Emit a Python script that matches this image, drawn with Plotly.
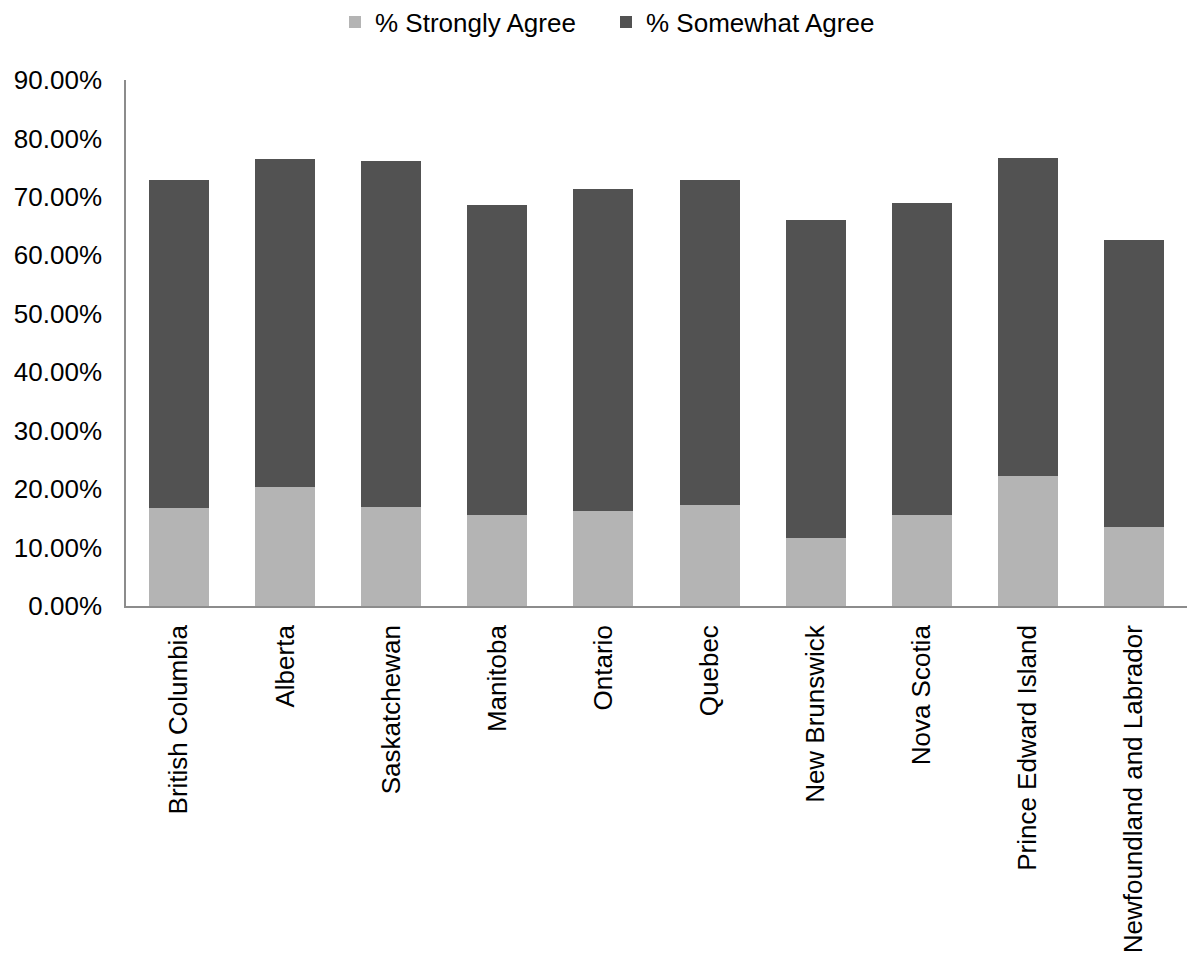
import plotly.graph_objects as go

provinces = ["British Columbia", "Alberta", "Saskatchewan", "Manitoba", "Ontario",
             "Quebec", "New Brunswick", "Nova Scotia", "Prince Edward Island",
             "Newfoundland and Labrador"]
strongly_agree = [0.1683, 0.2033, 0.1690, 0.1558, 0.1632, 0.1735, 0.1159, 0.1558, 0.2226, 0.1348]
somewhat_agree = [0.5600, 0.5616, 0.5918, 0.5303, 0.5503, 0.5554, 0.5447, 0.5337, 0.5445, 0.4919]
y_ticks = [0, 0.1, 0.2, 0.3, 0.4, 0.5, 0.6, 0.7, 0.8, 0.9]

FONT = "Liberation Sans, Arial, sans-serif"

fig = go.Figure()
fig.add_trace(go.Bar(x=provinces, y=strongly_agree, name="% Strongly Agree",
                     marker=dict(color="#b4b4b4", line=dict(width=0))))
fig.add_trace(go.Bar(x=provinces, y=somewhat_agree, name="% Somewhat Agree",
                     marker=dict(color="#525252", line=dict(width=0))))

fig.update_layout(
    barmode="stack",
    bargap=0.434,
    width=1188, height=967,
    margin=dict(l=126, r=1, t=80, b=361),
    paper_bgcolor="white", plot_bgcolor="white",
    font=dict(family=FONT, size=26, color="black"),
    hovermode=False,
    legend=dict(orientation="h", xref="container", yref="container",
                x=335/1188, xanchor="left", y=1-22/967, yanchor="middle",
                entrywidth=226, entrywidthmode="pixels",
                font=dict(family=FONT, size=26, color="black"),
                bgcolor="rgba(0,0,0,0)", traceorder="normal"),
)
fig.update_yaxes(range=[0, 0.9], tickvals=y_ticks, tickformat=".2%",
                 showgrid=False, zeroline=False, showline=True,
                 linecolor="#8c8c8c", linewidth=1.5, ticks="",
                 ticklabelstandoff=17)
fig.update_xaxes(tickangle=-90, showgrid=False, showline=True,
                 linecolor="#8c8c8c", linewidth=1.5, ticks="",
                 ticklabelstandoff=7)

fig.write_html("out.html")
